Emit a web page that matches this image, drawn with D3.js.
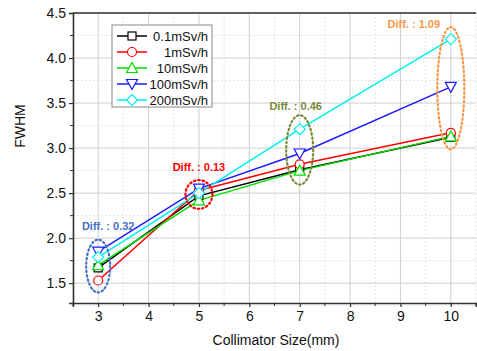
<!DOCTYPE html>
<html>
<head>
<meta charset="utf-8">
<script src="https://cdn.jsdelivr.net/npm/d3@7"></script>
<style>
  html, body { margin: 0; padding: 0; background: #fff; }
  svg { display: block; font-family: Arial, "Liberation Sans", sans-serif; }
</style>
</head>
<body>
<svg id="chart" width="477" height="351"></svg>
<script>
// collimator sizes (mm)
const sizes = [3, 5, 7, 10];
// FWHM per dose rate
const fwhm01 = [1.67, 2.47, 2.76, 3.12];
const fwhm1 = [1.53, 2.53, 2.82, 3.17];
const fwhm10 = [1.70, 2.42, 2.75, 3.13];
const fwhm100 = [1.85, 2.55, 2.94, 3.68];
const fwhm200 = [1.79, 2.50, 3.21, 4.21];
const seriesNames = ['0.1mSv/h', '1mSv/h', '10mSv/h', '100mSv/h', '200mSv/h'];
const xTicks = [3, 4, 5, 6, 7, 8, 9, 10];
const yTicks = [1.5, 2.0, 2.5, 3.0, 3.5, 4.0, 4.5];
// spread annotations
const diffLabels = ['Diff. : 0.32', 'Diff. : 0.13', 'Diff. : 0.46', 'Diff. : 1.09'];

const colors = ['#000000', '#ff0000', '#00e000', '#1a1aff', '#00f0f0'];
const symbols = ['square', 'circle', 'up', 'down', 'diamond'];
const diffColors = ['#4472c4', '#ff0000', '#7a8a38', '#f79646'];

let width = 477, height = 351;
let margin = { left: 73, top: 13, right: 1, bottom: 48 };

let svg = d3.select('#chart');

let x = d3.scaleLinear().domain([2.5, 10.5]).range([margin.left, width - margin.right]);
let y = d3.scaleLinear().domain([1.28, 4.5]).range([height - margin.bottom, margin.top]);

let series = [fwhm01, fwhm1, fwhm10, fwhm100, fwhm200].map((vals, i) => ({
  name: seriesNames[i], color: colors[i], symbol: symbols[i],
  points: sizes.map((s, j) => ({ x: s, y: vals[j] }))
}));

// grid: minor dotted, major solid
let xMinor = d3.range(2.5, 10.51, 0.5).filter(v => v % 1 !== 0);
let yMinor = d3.range(1.25, 4.5, 0.25).filter(v => Math.abs(v * 2 - Math.round(v * 2)) > 1e-6);

let grid = svg.append('g');
grid.selectAll('.xmin').data(xMinor).enter().append('line')
  .attr('x1', d => x(d)).attr('x2', d => x(d))
  .attr('y1', y.range()[0]).attr('y2', y.range()[1])
  .attr('stroke', '#e4e4e4').attr('stroke-dasharray', '2,2');
grid.selectAll('.ymin').data(yMinor).enter().append('line')
  .attr('y1', d => y(d)).attr('y2', d => y(d))
  .attr('x1', x.range()[0]).attr('x2', x.range()[1])
  .attr('stroke', '#e4e4e4').attr('stroke-dasharray', '2,2');
grid.selectAll('.xmaj').data(xTicks).enter().append('line')
  .attr('x1', d => x(d)).attr('x2', d => x(d))
  .attr('y1', y.range()[0]).attr('y2', y.range()[1])
  .attr('stroke', '#cfcfcf');
grid.selectAll('.ymaj').data(yTicks).enter().append('line')
  .attr('y1', d => y(d)).attr('y2', d => y(d))
  .attr('x1', x.range()[0]).attr('x2', x.range()[1])
  .attr('stroke', '#cfcfcf');

// axes
let xAxis = svg.append('g')
  .attr('transform', 'translate(0,' + y.range()[0] + ')')
  .call(d3.axisBottom(x).tickValues(xTicks).tickSize(4).tickPadding(4).tickFormat(d3.format('d')));
xAxis.append('g').selectAll('line').data(xMinor).enter().append('line')
  .attr('x1', d => x(d)).attr('x2', d => x(d)).attr('y1', 0).attr('y2', 3)
  .attr('stroke', '#333');

let yAxis = svg.append('g')
  .attr('transform', 'translate(' + x.range()[0] + ',0)')
  .call(d3.axisLeft(y).tickValues(yTicks).tickSize(4).tickPadding(3).tickFormat(d3.format('.1f')));
yAxis.append('g').selectAll('line').data(yMinor.filter(v => v > 1.3)).enter().append('line')
  .attr('y1', d => y(d)).attr('y2', d => y(d)).attr('x1', 0).attr('x2', -3)
  .attr('stroke', '#333');

[xAxis, yAxis].forEach(a => {
  a.select('.domain').attr('stroke', '#333').attr('stroke-width', 1.6);
  a.selectAll('.tick line').attr('stroke', '#333').attr('stroke-width', 1.2);
  a.selectAll('text').attr('font-size', 14).attr('fill', '#111')
    .attr('font-family', 'Arial, "Liberation Sans", sans-serif');
});

// top border
svg.append('line')
  .attr('x1', x.range()[0]).attr('x2', x.range()[1])
  .attr('y1', y.range()[1]).attr('y2', y.range()[1])
  .attr('stroke', '#333').attr('stroke-width', 1.6);

// axis titles
svg.append('text')
  .attr('x', 276).attr('y', 345)
  .attr('text-anchor', 'middle').attr('font-size', 14).attr('fill', '#111')
  .text('Collimator Size(mm)');
svg.append('text')
  .attr('transform', 'translate(25,126) rotate(-90)')
  .attr('text-anchor', 'middle').attr('font-size', 14).attr('fill', '#111')
  .text('FWHM');

// marker drawing
function drawMarker(g, sym, color, size) {
  let s = size / 2;
  if (sym === 'square') {
    g.append('rect').attr('x', -s + 0.5).attr('y', -s + 0.5).attr('width', size - 1).attr('height', size - 1);
  } else if (sym === 'circle') {
    g.append('circle').attr('r', s);
  } else if (sym === 'up') {
    g.append('path').attr('d', `M0,${-s - 1}L${s + 1},${s}L${-s - 1},${s}Z`);
  } else if (sym === 'down') {
    g.append('path').attr('d', `M0,${s + 1}L${s + 1},${-s}L${-s - 1},${-s}Z`);
  } else if (sym === 'diamond') {
    g.append('path').attr('d', `M0,${-s - 1}L${s + 1},0L0,${s + 1}L${-s - 1},0Z`);
  }
  g.selectAll('*').attr('fill', '#fff').attr('stroke', color).attr('stroke-width', 1.2);
}

let line = d3.line().x(d => x(d.x)).y(d => y(d.y));

let plot = svg.append('g');
series.forEach(s => {
  plot.append('path').datum(s.points)
    .attr('d', line).attr('fill', 'none')
    .attr('stroke', s.color).attr('stroke-width', 1.5);
});
series.forEach(s => {
  plot.selectAll(null).data(s.points).enter().append('g')
    .attr('transform', d => 'translate(' + x(d.x) + ',' + y(d.y) + ')')
    .each(function () { drawMarker(d3.select(this), s.symbol, s.color, 9); });
});

// difference ellipses
let pads = [12, 8.5, 14, 12];
let labelDx = [10, 0, -4, -37];
let labelDy = [-10, -9, -5, 1];
sizes.forEach((sz, j) => {
  let vals = series.map(s => s.points[j].y);
  let yTop = y(d3.max(vals)), yBot = y(d3.min(vals));
  let cy = (yTop + yBot) / 2, ry = (yBot - yTop) / 2 + pads[j];
  svg.append('ellipse')
    .attr('cx', x(sz)).attr('cy', cy).attr('rx', j === 0 ? 12 : 13.5).attr('ry', ry)
    .attr('fill', 'none').attr('stroke', diffColors[j])
    .attr('stroke-width', 2.2).attr('stroke-dasharray', '1.5,2.8').attr('stroke-linecap', 'round');
  svg.append('text')
    .attr('x', x(sz) + labelDx[j]).attr('y', cy - ry + labelDy[j])
    .attr('text-anchor', 'middle').attr('font-size', 11).attr('font-weight', 'bold')
    .attr('fill', diffColors[j])
    .text(diffLabels[j]);
});

// legend
let lg = svg.append('g').attr('transform', 'translate(112,25)');
lg.append('rect').attr('width', 100).attr('height', 82)
  .attr('fill', '#fff').attr('stroke', '#888').attr('stroke-width', 1);
series.forEach((s, i) => {
  let row = lg.append('g').attr('transform', 'translate(0,' + (11 + i * 16) + ')');
  row.append('line').attr('x1', 5).attr('x2', 35).attr('stroke', s.color).attr('stroke-width', 1.5);
  drawMarker(row.append('g').attr('transform', 'translate(20,0)'), s.symbol, s.color, 9);
  row.append('text').attr('x', 96).attr('y', 5)
    .attr('text-anchor', 'end').attr('font-size', 13).attr('fill', '#111')
    .text(s.name);
});
</script>
</body>
</html>
